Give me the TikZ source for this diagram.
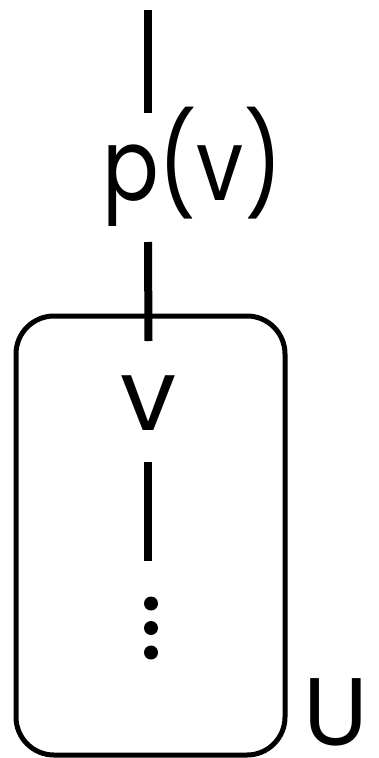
\documentclass[tikz,border=0pt]{standalone}
\usepackage{fontspec}
\setmainfont{Poppins}
\newfontfamily\narrowfont[FakeStretch=0.84]{Poppins}
\begin{document}
\begin{tikzpicture}[x=1pt, y=-1pt, line width=8pt,
  lbl/.style={inner sep=0, font=\fontsize{100}{120}\selectfont}]
\useasboundingbox (0,0) rectangle (378,758);
\coordinate (top) at (148,10);
\node[lbl, font=\narrowfont\fontsize{100}{120}\selectfont, anchor=base west, text height=83pt, text depth=38pt] (pv) at (98,200) {p(v)};
\node[draw, line width=5pt, rounded corners=38pt, minimum width=269pt, minimum height=439pt] (box) at (150.5,535.5) {};
\node[lbl, anchor=base, text height=85pt, text depth=28pt] (v) at (148.5,430) {v};
\node[inner sep=0, minimum height=126pt] (dots) at (151,628) {};
\foreach \k in {-1,0,1} \fill ([yshift=-24.5*\k pt]dots.center) circle (7pt);
\node[lbl, font=\fontsize{96}{110}\selectfont, anchor=base east] (U) at (372,745) {U};
\draw (top) -- (top |- pv.north);
\draw (pv.south -| top) -- (v.north);
\draw (v.south -| top) -- (top |- dots.north);
\end{tikzpicture}
\end{document}
